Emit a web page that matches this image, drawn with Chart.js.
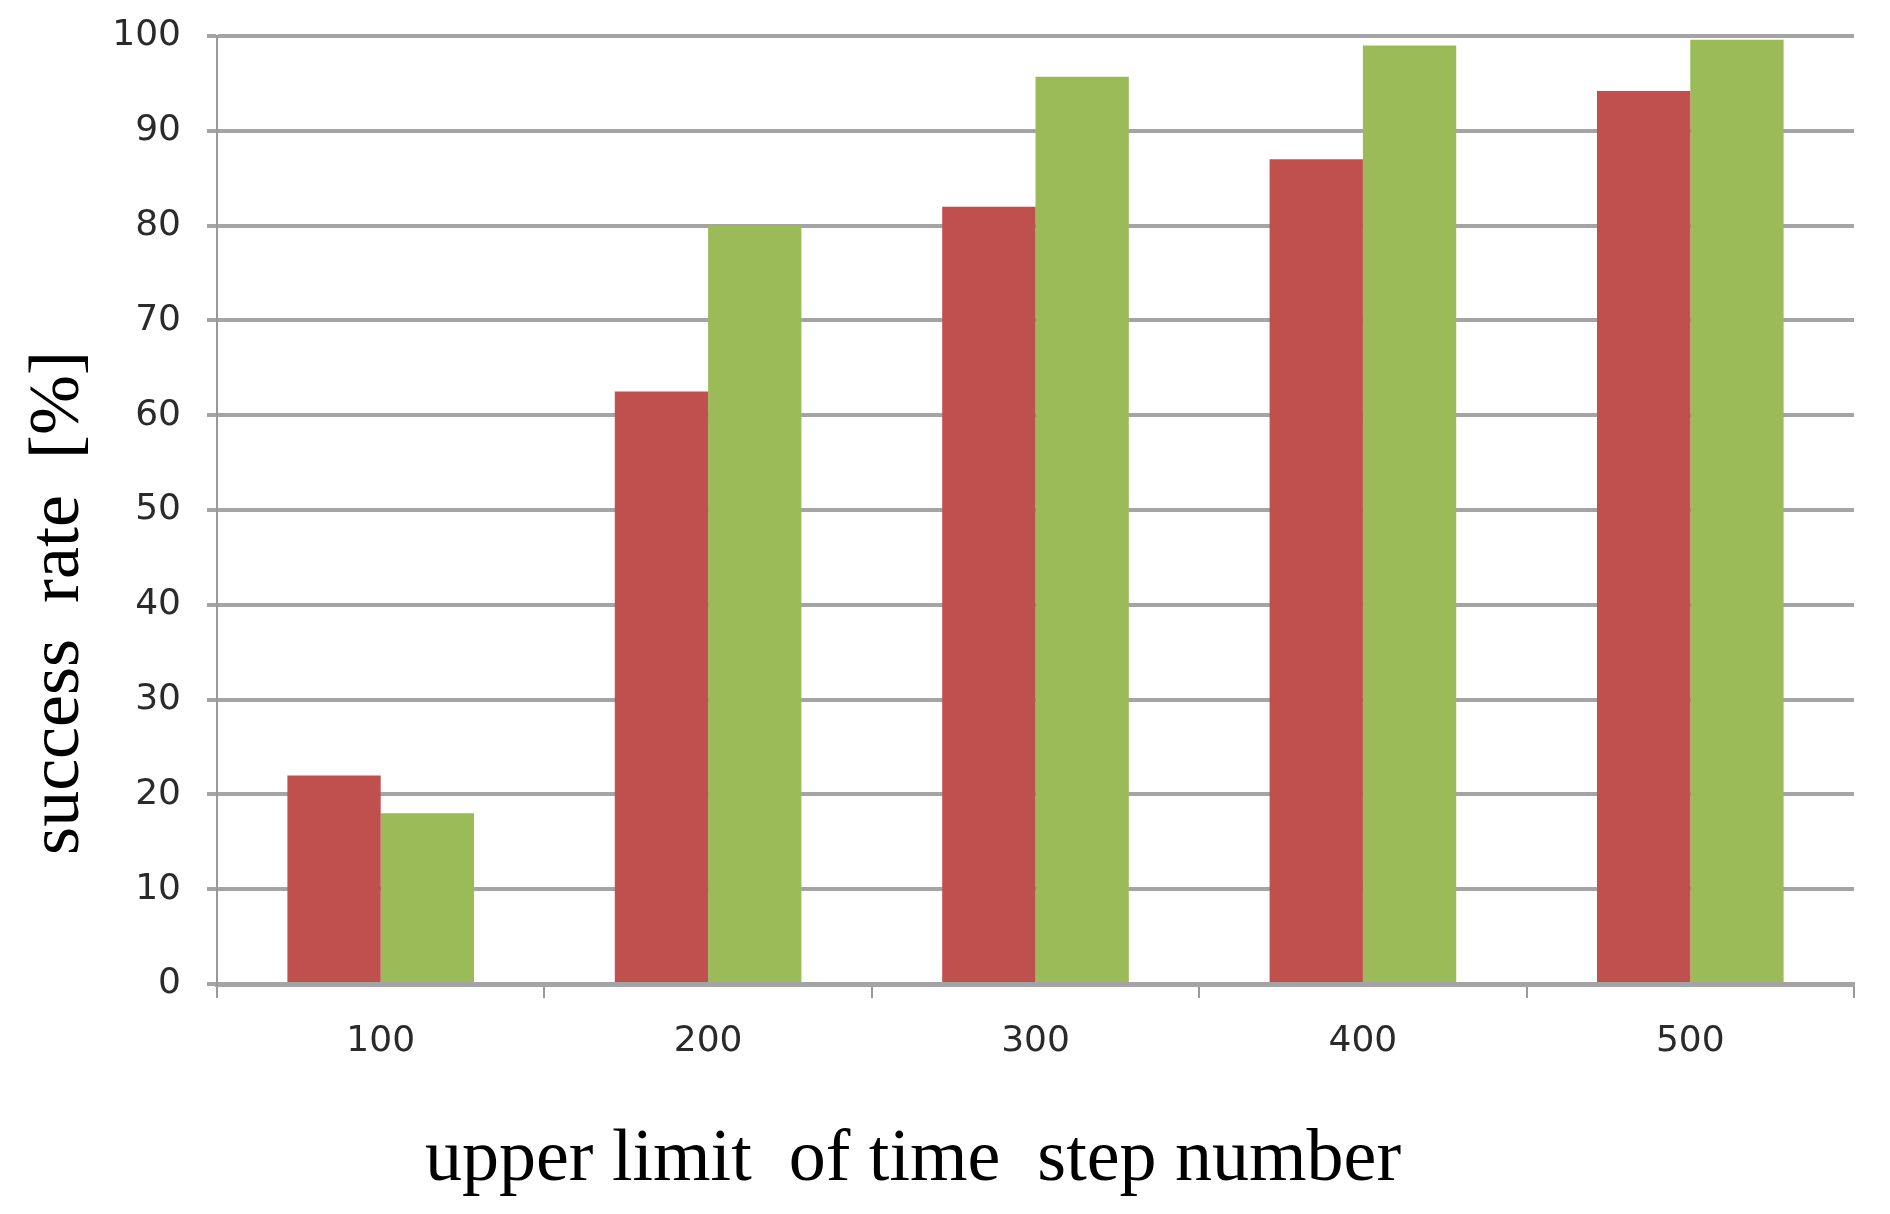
<!DOCTYPE html>
<html>
<head>
<meta charset="utf-8">
<script src="https://cdn.jsdelivr.net/npm/chart.js@4.4.1/dist/chart.umd.min.js"></script>
<style>
  html, body { margin: 0; padding: 0; background: #fff; }
  canvas { display: block; }
</style>
</head>
<body>
<canvas id="myChart" width="1890" height="1214"></canvas>
<script>
// data
const categories = ["100", "200", "300", "400", "500"];
const redValues = [22, 62.5, 82, 87, 94.2];
const greenValues = [18, 80, 95.7, 99, 99.6];
const xTitle = "upper limit  of time  step number";
const yTitle = "success  rate  [%]";

// axis titles are drawn by hand, they sit off-centre in the original
const titles = {
  id: "titles",
  afterDraw: (chart) => {
    const ctx = chart.ctx;
    ctx.save();
    ctx.fillStyle = "#000";
    ctx.font = "74px 'Liberation Serif', 'Times New Roman', serif";
    ctx.textAlign = "center";
    ctx.textBaseline = "alphabetic";
    ctx.fillText(xTitle, 913, 1180);

    ctx.font = "72px 'Liberation Serif', 'Times New Roman', serif";
    ctx.translate(78, 603);
    ctx.rotate(-Math.PI / 2);
    ctx.fillText(yTitle, 0, 0);
    ctx.restore();
  },
};

const data = {
  labels: categories,
  datasets: [
    {
      label: "red",
      backgroundColor: "#C0504D",
      data: redValues,
    },
    {
      label: "green",
      backgroundColor: "#9BBB59",
      data: greenValues,
    },
  ],
};

const config = {
  type: "bar",
  data: data,
  options: {
    responsive: false,
    animation: false,
    devicePixelRatio: 1,
    layout: {
      padding: { left: 0, right: 36, top: 36, bottom: 0 },
    },
    plugins: {
      legend: { display: false },
      tooltip: { enabled: false },
    },
    datasets: {
      bar: {
        categoryPercentage: 0.57,
        barPercentage: 1.0,
        borderWidth: 0,
      },
    },
    scales: {
      x: {
        afterFit: (s) => {
          s.height = 230;
        },
        grid: {
          display: true,
          drawOnChartArea: false,
          drawTicks: true,
          tickLength: 14,
          color: "#999",
          lineWidth: 2,
        },
        border: { display: true, color: "#a4a4a4", width: 5 },
        ticks: {
          color: "#2a2a2a",
          font: { family: "'DejaVu Sans', sans-serif", size: 36 },
          padding: 22,
        },
      },
      y: {
        min: 0,
        max: 100,
        afterFit: (s) => {
          s.width = 217;
          s.paddingTop = 0;
          s.paddingBottom = 0;
        },
        grid: {
          color: "#a4a4a4",
          lineWidth: 4,
          tickLength: 10,
        },
        border: { display: true, color: "#999", width: 2 },
        ticks: {
          stepSize: 10,
          color: "#2a2a2a",
          font: { family: "'DejaVu Sans', sans-serif", size: 36 },
          padding: 26,
        },
      },
    },
  },
  plugins: [titles],
};

const myChart = new Chart(document.getElementById("myChart"), config);
</script>
</body>
</html>
